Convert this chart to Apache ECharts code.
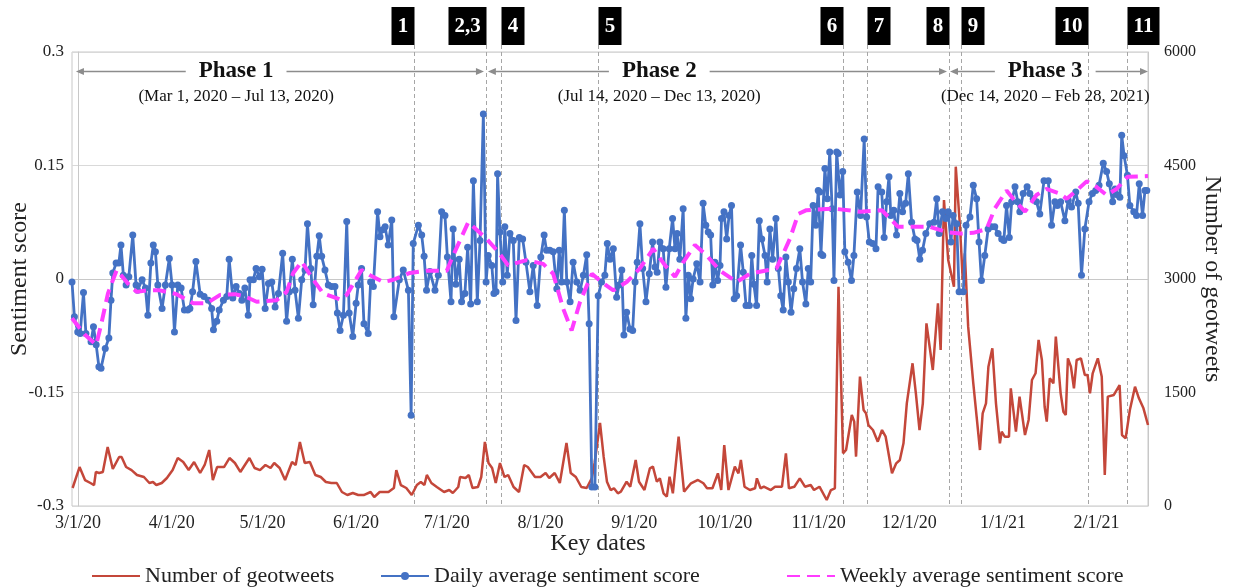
<!DOCTYPE html>
<html><head><meta charset="utf-8">
<script src="https://cdn.jsdelivr.net/npm/echarts@6/dist/echarts.min.js"></script>
<style>html,body{margin:0;padding:0;background:#fff}#c{width:1234px;height:587px}</style>
</head><body><div id="c"></div>
<script>
// ---------------- DATA (x = days since Mar 1, 2020) ----------------
const monthTickDays = [0,31,61,92,122,153,184,214,245,275,306,337];
const monthTickLabels = ['3/1/20','4/1/20','5/1/20','6/1/20','7/1/20','8/1/20','9/1/20','10/1/20','11/1/20','12/1/20','1/1/21','2/1/21'];
const sentimentTicks = [-0.3,-0.15,0,0.15,0.3];
const sentimentTickLabels = ['-0.3','-0.15','0','0.15','0.3'];
const geotweetTicks = [0,1500,3000,4500,6000];

const geotweets = [
[-1.8,238],[0.5,515],[2.3,343],[4.1,304],[5.3,277],[5.9,450],[7.0,436],[8.2,450],[9.8,780],[11.5,490],
[13.6,648],[14.4,648],[15.9,515],[17.7,475],[19.5,410],[21.8,383],[23.6,304],[24.8,317],[25.9,277],[27.7,304],
[29.4,370],[31.3,475],[33.0,634],[34.8,581],[36.6,475],[38.4,581],[40.4,436],[41.9,542],[43.4,740],[44.6,343],
[46.0,515],[48.3,515],[50.1,634],[51.9,568],[53.7,450],[56.7,634],[58.4,502],[60.2,475],[62.0,542],[63.7,502],
[64.9,568],[66.7,502],[68.5,343],[70.8,581],[72.0,542],[73.4,846],[75.0,568],[76.7,581],[78.5,410],[80.3,383],
[82.0,317],[83.8,304],[85.6,304],[87.3,185],[89.1,145],[90.9,172],[92.7,145],[94.5,145],[96.8,185],[98.0,119],
[99.8,185],[102.7,185],[104.5,238],[105.3,475],[106.8,277],[108.6,238],[110.4,145],[112.1,277],[113.4,317],[114.6,277],
[115.4,410],[116.9,304],[118.7,251],[121.1,185],[122.8,211],[124.0,172],[125.8,251],[126.4,383],[128.2,370],[129.3,410],
[130.5,238],[132.3,251],[133.4,383],[134.6,846],[135.8,568],[137.0,502],[138.2,304],[139.6,568],[141.1,383],[142.3,410],
[144.1,251],[145.9,185],[147.6,542],[148.8,515],[151.2,383],[153.0,383],[154.7,436],[155.9,370],[157.7,436],[159.4,304],
[161.6,833],[163.0,436],[164.7,383],[166.5,251],[168.3,238],[170.0,370],[170.9,568],[172.7,1097],[173.9,652],[175.0,321],
[176.2,211],[177.3,234],[178.6,168],[179.6,189],[181.5,321],[182.7,255],[184.5,608],[185.6,321],[187.4,211],[189.2,498],
[190.2,520],[191.5,321],[192.5,366],[193.7,168],[194.8,123],[195.7,388],[196.8,168],[198.7,916],[200.5,189],[202.8,300],
[205.1,344],[206.9,300],[208.1,234],[209.9,234],[211.7,432],[212.8,211],[213.8,806],[215.2,211],[217.3,520],[218.5,432],
[219.3,608],[220.5,255],[222.3,211],[224.0,234],[224.6,366],[225.8,234],[226.9,255],[229.2,211],[230.6,255],[232.9,255],
[234.2,696],[235.2,234],[237.0,255],[238.8,366],[240.5,255],[242.4,278],[243.5,211],[245.3,255],[247.7,79],[249.1,211],
[250.4,234],[251.6,2898],[253.1,696],[254.1,740],[256.0,1203],[256.8,1115],[257.4,652],[258.7,1709],[259.9,1269],[260.7,1225],
[261.5,1070],[263.0,1004],[264.6,850],[266.0,1004],[267.2,916],[269.3,432],[270.7,564],[271.9,608],[273.1,828],[274.2,1357],
[276.1,1886],[277.2,1489],[278.4,1004],[279.5,1357],[280.7,2414],[282.8,1797],[284.5,2679],[285.4,2062],[286.5,4044],[287.9,3251],
[289.8,2898],[290.4,4484],[291.8,3691],[292.7,2987],[293.4,3339],[294.5,2370],[296.2,1621],[297.3,1180],[298.4,740],[299.3,1225],
[300.4,1357],[301.2,1841],[302.5,2084],[303.7,1357],[305.0,828],[305.6,982],[306.6,916],[308.0,916],[308.6,1555],[310.3,982],
[311.5,1445],[313.3,938],[314.5,1137],[315.6,1665],[316.8,1754],[317.8,2194],[318.9,1930],[319.8,1312],[320.5,1115],[321.5,1688],
[322.7,1621],[323.5,2238],[325.1,1489],[326.0,1247],[326.8,1203],[327.5,1952],[328.5,1841],[329.5,1555],[330.4,1930],[331.8,1952],
[333.1,1731],[334.0,1731],[334.8,1489],[335.7,1754],[337.4,1952],[338.7,1709],[339.7,410],[340.7,1445],[342.7,1467],[344.6,1599],
[345.4,938],[346.6,894],[348.0,1269],[349.7,1577],[351.0,1423],[352.5,1291],[354.0,1070]
];

const dailySentiment = [
[-2.0,-0.004],[-1.2,-0.050],[-0.1,-0.070],[0.7,-0.072],[1.8,-0.018],[2.6,-0.072],[4.3,-0.083],[5.1,-0.063],[6.0,-0.087],[6.9,-0.116],
[7.6,-0.118],[9.0,-0.092],[10.2,-0.078],[10.9,-0.028],[11.5,0.008],[12.6,0.021],[13.5,0.021],[14.2,0.045],[15.0,0.005],[15.9,-0.008],
[16.8,0.003],[18.1,0.058],[19.2,-0.008],[19.7,-0.015],[21.2,-0.001],[22.3,-0.012],[23.1,-0.048],[24.1,0.021],[24.9,0.045],[25.6,0.036],
[26.4,-0.008],[27.8,-0.039],[28.9,-0.008],[30.2,0.027],[31.1,-0.008],[31.9,-0.070],[33.0,-0.008],[34.1,-0.012],[35.2,-0.041],[36.3,-0.041],
[37.0,-0.039],[37.9,-0.017],[39.0,0.023],[40.4,-0.020],[41.7,-0.023],[43.1,-0.028],[44.2,-0.039],[44.8,-0.067],[45.9,-0.056],[46.7,-0.041],
[48.1,-0.028],[49.2,-0.023],[50.0,0.026],[51.2,-0.025],[52.3,-0.010],[53.4,-0.019],[54.2,-0.028],[55.2,-0.012],[56.3,-0.048],[56.9,-0.001],
[58.0,-0.001],[58.9,0.014],[60.0,0.003],[60.9,0.013],[61.9,-0.039],[63.0,-0.006],[64.1,-0.004],[65.2,-0.037],[66.3,-0.019],[67.7,0.034],
[69.0,-0.056],[69.9,-0.017],[70.9,0.026],[71.8,-0.015],[72.9,-0.052],[74.0,-0.001],[75.1,0.012],[75.9,0.073],[77.0,0.014],[77.8,-0.034],
[79.0,0.030],[79.8,0.057],[80.6,0.030],[81.7,0.012],[82.8,-0.008],[83.9,-0.010],[85.0,-0.010],[85.8,-0.045],[86.7,-0.068],[87.8,-0.048],
[88.9,0.076],[89.7,-0.045],[90.9,-0.076],[92.0,-0.032],[92.7,-0.008],[93.8,0.014],[94.6,-0.059],[96.0,-0.072],[96.8,-0.004],[97.7,-0.010],
[99.1,0.089],[99.9,0.056],[100.8,0.065],[101.6,0.069],[102.6,0.045],[103.8,0.078],[104.5,-0.050],[106.3,-0.001],[107.6,0.012],[109.3,-0.015],
[110.2,-0.180],[110.9,0.047],[112.6,0.071],[113.7,0.058],[114.5,0.030],[115.3,-0.015],[116.4,0.010],[118.1,-0.015],[119.2,0.005],[120.3,0.089],
[121.4,0.084],[122.2,0.029],[123.4,-0.030],[124.1,0.066],[125.0,-0.007],[126.1,0.026],[126.9,-0.030],[128.0,-0.019],[128.9,0.042],[129.9,-0.033],
[130.8,0.130],[132.1,-0.030],[133.0,0.051],[134.1,0.218],[135.0,-0.004],[135.7,0.031],[136.9,0.018],[137.6,-0.019],[138.3,-0.017],[138.8,0.139],
[139.6,0.062],[140.5,-0.004],[141.2,0.069],[142.0,0.005],[142.9,0.060],[144.0,0.051],[144.9,-0.055],[146.0,0.055],[147.1,0.053],[148.2,0.022],
[149.5,-0.017],[150.6,0.018],[151.9,-0.035],[153.1,0.029],[154.2,0.058],[155.0,0.038],[156.1,0.038],[157.2,0.036],[158.4,-0.013],[159.2,0.038],
[160.0,-0.004],[160.9,0.091],[161.7,-0.004],[162.8,-0.030],[163.8,0.022],[165.0,-0.004],[166.1,-0.015],[167.2,0.005],[168.3,0.032],[169.1,-0.059],
[170.0,-0.275],[171.0,-0.275],[172.1,-0.022],[173.2,-0.004],[174.3,0.005],[175.1,0.047],[176.0,0.026],[177.1,0.040],[178.2,-0.024],[179.0,-0.008],
[179.9,0.012],[180.6,-0.074],[181.5,-0.044],[182.6,-0.066],[183.5,-0.068],[184.3,-0.004],[185.0,0.022],[185.9,0.073],[186.8,0.014],[187.9,-0.030],
[189.0,0.007],[190.1,0.049],[190.9,0.016],[191.6,0.009],[192.5,0.049],[193.6,0.040],[194.5,-0.011],[195.6,0.040],[196.7,0.080],[197.5,0.040],
[198.2,0.060],[199.1,0.026],[200.2,0.093],[201.1,-0.052],[201.9,0.005],[202.7,-0.026],[203.5,0.000],[204.7,0.020],[205.8,-0.004],[206.8,0.100],
[207.7,0.071],[208.5,0.062],[209.3,0.058],[210.0,-0.008],[210.7,0.022],[211.6,-0.002],[212.4,0.018],[212.9,0.080],[213.7,0.089],[214.6,0.053],
[215.4,0.084],[216.2,0.097],[217.1,-0.026],[217.9,-0.022],[219.2,0.045],[220.1,0.009],[221.0,-0.035],[222.1,-0.035],[222.9,0.031],[223.6,-0.007],
[224.5,-0.035],[225.4,0.077],[226.2,0.053],[227.3,0.031],[228.0,-0.004],[228.9,0.066],[229.8,0.026],[230.9,0.080],[231.7,0.014],[232.5,-0.022],
[233.3,-0.041],[234.2,0.029],[235.0,-0.004],[235.9,-0.044],[236.8,-0.013],[237.7,0.014],[238.8,0.040],[239.7,-0.004],[240.8,-0.033],[241.6,0.014],
[242.4,-0.004],[243.2,0.097],[244.1,0.071],[244.9,0.117],[245.4,0.115],[245.8,0.033],[246.4,0.031],[247.1,0.146],[247.9,0.106],[248.7,0.168],
[249.5,0.093],[250.1,-0.002],[251.0,0.168],[251.5,0.166],[252.1,0.111],[253.0,0.142],[253.7,0.036],[254.8,0.022],[255.9,-0.002],[256.7,0.031],
[257.8,0.115],[258.9,0.084],[260.1,0.185],[260.9,0.082],[261.8,0.049],[262.9,0.047],[264.0,0.040],[264.7,0.122],[265.9,0.115],[266.7,0.055],
[267.5,0.102],[268.3,0.135],[268.9,0.084],[269.9,0.091],[270.8,0.058],[271.9,0.113],[272.8,0.089],[273.8,0.100],[274.7,0.139],[275.8,0.075],
[276.9,0.053],[277.6,0.051],[278.5,0.026],[279.4,0.038],[280.5,0.060],[281.8,0.073],[283.2,0.075],[284.1,0.106],[284.9,0.060],[286.0,0.089],
[287.1,0.080],[287.9,0.089],[288.8,0.049],[289.5,0.084],[290.7,0.073],[291.5,-0.017],[292.9,-0.017],[293.8,0.071],[295.1,0.082],[296.2,0.124],
[297.3,0.106],[298.1,0.049],[298.9,-0.002],[300.0,0.031],[301.1,0.066],[302.2,0.069],[303.3,0.069],[304.4,0.060],[305.6,0.053],[306.3,0.051],
[307.2,0.097],[308.1,0.055],[308.9,0.102],[310.0,0.122],[310.9,0.102],[311.6,0.089],[312.7,0.113],[314.0,0.122],[314.9,0.113],[316.0,0.106],
[317.1,0.102],[318.2,0.086],[319.6,0.130],[321.0,0.130],[322.1,0.071],[323.2,0.102],[324.0,0.097],[325.1,0.102],[326.5,0.077],[327.6,0.104],
[328.7,0.095],[330.1,0.115],[330.9,0.100],[332.0,0.005],[333.1,0.066],[334.5,0.102],[335.6,0.113],[336.7,0.117],[337.8,0.124],[339.2,0.153],
[340.3,0.142],[341.2,0.126],[342.3,0.102],[343.1,0.119],[344.0,0.111],[344.7,0.108],[345.3,0.190],[346.1,0.163],[347.2,0.137],[348.0,0.097],
[349.3,0.089],[350.2,0.084],[351.1,0.126],[352.2,0.084],[353.0,0.117],[353.6,0.117]
];

const weeklySentiment = [
[-2.0,-0.052],[2.1,-0.073],[6.0,-0.087],[7.6,-0.061],[9.9,-0.019],[12.8,0.012],[16.5,-0.006],[19.4,-0.017],[22.7,-0.015],[27.1,-0.015],
[32.6,-0.020],[38.1,-0.032],[42.6,-0.032],[47.0,-0.021],[51.9,-0.020],[55.2,-0.023],[59.1,-0.030],[65.7,-0.028],[69.0,-0.017],[71.2,0.008],
[74.0,0.023],[77.8,-0.001],[81.1,-0.019],[86.7,-0.027],[88.9,-0.021],[93.8,0.012],[96.6,0.005],[101.0,-0.004],[104.3,-0.001],[109.8,0.008],
[115.3,0.011],[122.0,0.011],[124.1,0.031],[129.1,0.075],[135.2,0.053],[139.0,0.036],[142.3,0.018],[148.4,0.025],[153.9,0.020],[157.2,0.007],
[160.5,-0.039],[163.3,-0.068],[166.1,-0.030],[170.0,0.007],[173.2,-0.004],[177.1,-0.015],[181.5,-0.004],[185.9,0.014],[190.3,0.040],[194.2,0.018],
[197.5,0.003],[200.2,0.022],[204.1,0.045],[208.0,0.031],[212.4,0.011],[217.9,-0.004],[222.3,0.007],[231.1,0.014],[235.5,0.053],[238.3,0.086],
[241.0,0.091],[249.9,0.093],[258.7,0.089],[265.9,0.091],[271.3,0.069],[281.8,0.069],[287.4,0.062],[291.8,0.060],[296.2,0.061],[300.6,0.066],
[303.3,0.093],[307.2,0.117],[309.4,0.106],[313.3,0.089],[317.1,0.111],[320.4,0.119],[324.8,0.113],[327.1,0.106],[330.4,0.117],[333.7,0.129],
[335.9,0.125],[340.3,0.111],[343.6,0.119],[347.2,0.135],[354.0,0.136]
];

const keyDays = [111,135,140,172,253,261,288,292,334,347];
const keyLabels = ['1','2,3','4','5','6','7','8','9','10','11'];
const phaseNames = ['Phase 1','Phase 2','Phase 3'];
const phaseSubtitles = ['(Mar 1, 2020 \u2013 Jul 13, 2020)','(Jul 14, 2020 \u2013 Dec 13, 2020)','(Dec 14, 2020 \u2013 Feb 28, 2021)'];
const phaseSpans = [[-0.7,134.3],[135.6,287.5],[288.5,354]];
const phaseLabelDays = [52.3,192.3,320];

// ---------------- CHART ----------------
const SERIF = "'Liberation Serif','DejaVu Serif',serif";
const RED = '#c4473a', BLUE = '#4472c4', MAG = '#ff3cff';
const chart = echarts.init(document.getElementById('c'), null, {renderer:'canvas'});
const legendText = {fontFamily:SERIF, fontSize:22, color:'#222'};
function mkLegend(item, left, h){
  return {data:[item], left:left, top:560, itemWidth:48, itemHeight:h, itemGap:6, textStyle:legendText, selectedMode:false};
}
chart.setOption({
  animation:false,
  backgroundColor:'#fff',
  grid:{left:72, right:86, top:52, bottom:81, show:true, borderColor:'#c8c8c8', borderWidth:1,
        containLabel:false, outerBoundsMode:'none'},
  legend:[
    mkLegend({name:'Number of geotweets', itemStyle:{opacity:0}}, 86, 12),
    mkLegend({name:'Daily average sentiment score'}, 375, 10),
    mkLegend({name:'Weekly average sentiment score', itemStyle:{opacity:0}}, 781, 12)
  ],
  xAxis:{type:'value', min:-2, max:354,
    axisLine:{show:true, lineStyle:{color:'#c8c8c8'}}, axisTick:{show:false}, splitLine:{show:false},
    axisLabel:{customValues:monthTickDays, formatter:v=>{const i=monthTickDays.indexOf(v);return i>=0?monthTickLabels[i]:'';},
      fontFamily:SERIF, fontSize:18, color:'#222', margin:8},
    name:'Key dates', nameLocation:'middle', nameGap:26, nameMoveOverlap:false,
    nameTextStyle:{fontFamily:SERIF, fontSize:24, color:'#222', padding:[0,24,0,0]}},
  yAxis:[
    {type:'value', min:-0.3, max:0.3, interval:0.15,
     axisLine:{show:true, lineStyle:{color:'#c8c8c8'}}, axisTick:{show:false},
     splitLine:{show:true, lineStyle:{color:'#d9d9d9', width:1}},
     axisLabel:{fontFamily:SERIF, fontSize:17, color:'#222', margin:8,
       formatter:v=>{const i=sentimentTicks.findIndex(t=>Math.abs(t-v)<1e-9);return i>=0?sentimentTickLabels[i]:'';}},
     name:'Sentiment score', nameLocation:'middle', nameGap:40, nameRotate:90, nameMoveOverlap:false,
     nameTextStyle:{fontFamily:SERIF, fontSize:24, color:'#222'}},
    {type:'value', min:0, max:6000, interval:1500, position:'right',
     axisLine:{show:true, lineStyle:{color:'#c8c8c8'}}, axisTick:{show:false}, splitLine:{show:false},
     axisLabel:{fontFamily:SERIF, fontSize:16, color:'#222', margin:16,
       formatter:v=>geotweetTicks.includes(v)?String(v):''},
     name:'Number of geotweets', nameLocation:'middle', nameGap:52, nameRotate:-90, nameMoveOverlap:false,
     nameTextStyle:{fontFamily:SERIF, fontSize:24, color:'#222'}}
  ],
  series:[
    {name:'Number of geotweets', type:'line', yAxisIndex:1, data:geotweets, symbol:'none',
     lineStyle:{color:RED, width:2.5}, itemStyle:{color:RED}, z:2},
    {name:'Daily average sentiment score', type:'line', yAxisIndex:0, data:dailySentiment,
     symbol:'circle', symbolSize:7, showAllSymbol:true,
     lineStyle:{color:BLUE, width:2.8}, itemStyle:{color:BLUE}, z:3},
    {name:'Weekly average sentiment score', type:'line', yAxisIndex:0, data:weeklySentiment, symbol:'none',
     lineStyle:{color:MAG, width:4, type:[13,7]}, itemStyle:{color:MAG}, z:4}
  ]
});

// ---------------- ANNOTATIONS ----------------
function px(d, v){ return chart.convertToPixel({xAxisIndex:0, yAxisIndex:0}, [d, v]); }
const gTop = px(0, 0.3)[1], gBot = px(0, -0.3)[1];
const graphics = [];
const GRAY = '#8c8c8c';
const boxRightAligned = [true,true,false,false,true,false,true,false,true,false];
const boxTop = gTop - 45, boxH = 38;
const meas = document.createElement('canvas').getContext('2d');
keyDays.forEach((d,i)=>{
  const x = Math.round(px(d,0)[0]) + 0.5;
  graphics.push({type:'line', z:1, silent:true, shape:{x1:x, y1:boxTop+boxH, x2:x, y2:gBot},
    style:{stroke:'#a6a6a6', lineWidth:1, lineDash:[4,3]}});
  meas.font = 'bold 21px ' + SERIF;
  const w = Math.max(21, Math.round(meas.measureText(keyLabels[i]).width) + 12);
  const bx = boxRightAligned[i] ? x - w : x;
  graphics.push({type:'rect', z:10, silent:true, shape:{x:bx, y:boxTop, width:w, height:boxH}, style:{fill:'#000'}});
  graphics.push({type:'text', z:11, silent:true, x:bx + w/2, y:boxTop + boxH/2 + 1,
    style:{text:keyLabels[i], fill:'#fff', font:'bold 21px ' + SERIF, align:'center', verticalAlign:'middle'}});
});
const arrowY = Math.round(px(0, 0.275)[1]) + 0.5;
const subY = px(0, 0.2405)[1];
function arrowHead(xTip, y, dir){
  const L = 8, H = 3.5;
  return {type:'polygon', z:10, silent:true, shape:{points:[[xTip,y],[xTip-dir*L,y-H],[xTip-dir*L,y+H]]}, style:{fill:GRAY}};
}
phaseNames.forEach((nm,i)=>{
  const xs = px(phaseSpans[i][0],0)[0], xe = px(phaseSpans[i][1],0)[0];
  const xc = px(phaseLabelDays[i],0)[0];
  meas.font = 'bold 23px ' + SERIF;
  const tw = meas.measureText(nm).width;
  const g1 = xc - tw/2 - 13, g2 = xc + tw/2 + 13;
  graphics.push({type:'line', z:10, silent:true, shape:{x1:xs+4, y1:arrowY, x2:g1, y2:arrowY}, style:{stroke:GRAY, lineWidth:1.5}});
  graphics.push({type:'line', z:10, silent:true, shape:{x1:g2, y1:arrowY, x2:xe-4, y2:arrowY}, style:{stroke:GRAY, lineWidth:1.5}});
  graphics.push(arrowHead(xs, arrowY, -1));
  graphics.push(arrowHead(xe, arrowY, 1));
  graphics.push({type:'text', z:11, silent:true, x:xc, y:arrowY,
    style:{text:nm, fill:'#111', font:'bold 23px ' + SERIF, align:'center', verticalAlign:'middle'}});
  graphics.push({type:'text', z:11, silent:true, x:xc, y:subY,
    style:{text:phaseSubtitles[i], fill:'#111', font:'17px ' + SERIF, align:'center', verticalAlign:'middle'}});
});
chart.setOption({graphic:graphics});
</script>
</body></html>
